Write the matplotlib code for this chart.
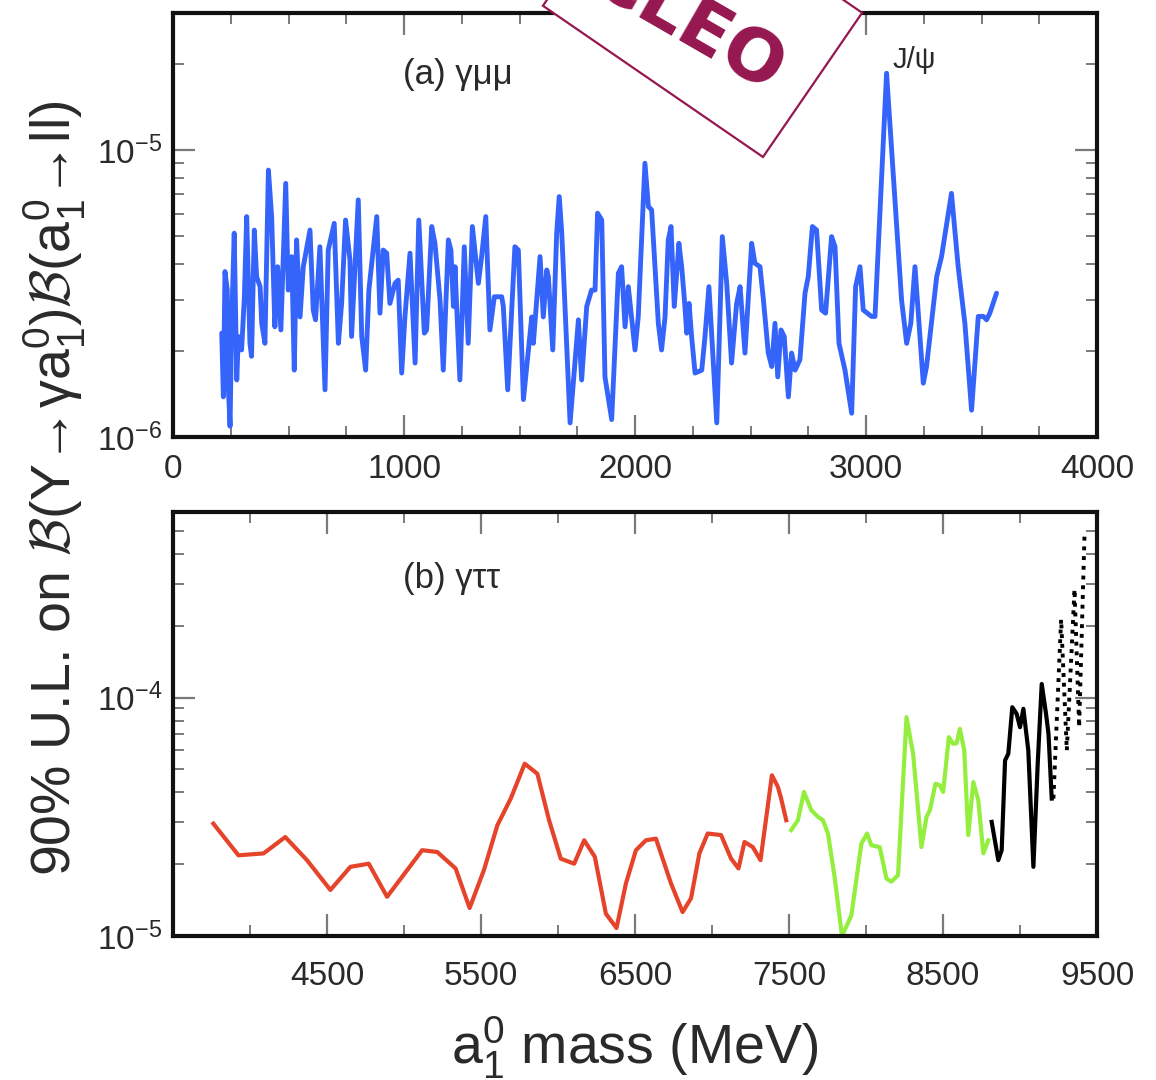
import matplotlib
matplotlib.use("Agg")
import matplotlib.pyplot as plt
import numpy as np
from matplotlib import font_manager
from matplotlib.ticker import FixedLocator, NullFormatter, FuncFormatter, LogLocator
from matplotlib.patches import Rectangle
from matplotlib.transforms import Affine2D

# ---------------------------------------------------------------- data
# (a) Upsilon -> gamma a1, a1 -> mu mu : 90% UL (units of 1e-6)
mumu_mass = [211, 218, 225, 235, 240, 247, 254, 265, 276, 283, 297, 309, 319, 333, 340,
             352, 362, 377, 384, 398, 413, 427, 441, 453, 467, 488, 499, 514, 525, 535,
             550, 564, 593, 607, 617, 636, 658, 672, 698, 716, 730, 747, 766, 773, 802,
             817, 834, 848, 882, 896, 910, 925, 939, 961, 975, 990, 1004, 1026, 1048, 1064,
             1088, 1098, 1120, 1134, 1156, 1170, 1192, 1203, 1214, 1221, 1228, 1242, 1261,
             1278, 1296, 1322, 1336, 1354, 1372, 1391, 1423, 1430, 1449, 1480, 1495, 1517,
             1553, 1560, 1589, 1603, 1618, 1625, 1644, 1661, 1672, 1683, 1719, 1755, 1769,
             1791, 1812, 1827, 1838, 1856, 1870, 1899, 1928, 1942, 1957, 1971, 2000,
             2014, 2043, 2058, 2072, 2101, 2115, 2130, 2144, 2156, 2170, 2190, 2202, 2214,
             2224, 2234, 2245, 2260, 2289, 2303, 2320, 2354, 2378, 2397, 2418, 2440, 2455,
             2476, 2505, 2519, 2541, 2556, 2577, 2592, 2606, 2618, 2632, 2646, 2664, 2678,
             2693, 2714, 2736, 2750, 2768, 2786, 2808, 2825, 2851, 2866, 2883, 2909, 2938,
             2955, 2974, 2988, 3024, 3039, 3089, 3154, 3176, 3194, 3212, 3248, 3262, 3306,
             3327, 3370, 3399, 3428, 3457, 3486, 3508, 3522, 3536, 3565]
mumu_ul = [2.30, 1.38, 3.77, 3.25, 1.46, 1.09, 2.49, 5.13, 1.58, 2.24, 2.01, 3.08, 5.86, 2.12,
           1.91, 5.26, 3.62, 3.34, 2.49, 2.12, 8.51, 5.86, 2.42, 3.92, 2.36, 7.65, 3.25, 4.25,
           1.71, 4.86, 2.62, 3.92, 5.26, 2.77, 2.56, 4.60, 1.46, 4.48, 5.55, 2.12, 2.92, 5.70,
           4.14, 2.24, 6.70, 2.24, 1.71, 3.25, 5.86, 2.70, 4.48, 4.37, 2.92, 3.43, 3.52, 1.67,
           2.62, 4.37, 1.81, 5.70,
           2.30, 2.36, 5.41, 4.73, 3.00, 1.71, 4.86, 4.48, 2.85, 3.92, 2.85, 1.58, 4.60, 2.12,
           5.41, 3.43, 4.25, 5.86, 2.36, 3.08, 3.08, 2.85, 1.46, 4.60, 4.48, 1.35, 2.62, 2.12,
           4.25, 2.62, 3.82, 3.62, 2.01, 5.13, 6.88, 5.13, 1.12, 2.56, 1.58, 2.85, 3.25, 3.25,
           6.02, 5.70, 1.62, 1.15, 3.72, 3.92, 2.42, 3.34, 2.01,
           2.62, 8.99, 6.35, 6.18, 2.49, 2.01, 2.62, 4.86, 5.41, 2.85, 4.73, 3.92, 3.00, 2.30,
           2.92, 2.24, 1.67, 1.71, 2.24, 3.34, 1.12, 4.99, 3.43, 1.81, 2.92, 3.34, 1.96, 4.73,
           4.03, 3.92, 3.00, 1.96, 1.76, 2.49, 1.62, 2.36, 2.24, 1.38, 1.96, 1.71, 1.86, 3.17,
           3.62, 5.41, 5.26, 2.77, 2.70, 4.99, 4.60, 2.12, 1.71, 1.21, 3.34, 3.92,
           2.77, 2.63, 2.63, 18.5, 3.00, 2.12, 2.49, 3.92, 1.54, 1.76, 3.62, 4.25, 7.06, 3.92,
           2.49, 1.24, 2.63, 2.63, 2.56, 2.70, 3.17]

# (b) Upsilon -> gamma a1, a1 -> tau tau : 90% UL (units of 1e-5), per Upsilon sample
tau_mass_1s = [3762, 3925, 4088, 4229, 4370, 4522, 4652, 4771, 4890, 5118, 5216, 5335, 5426,
               5519, 5606, 5693, 5784, 5866, 5942, 6018, 6105, 6170, 6239, 6311, 6380, 6441,
               6506, 6571, 6636, 6734, 6809, 6864, 6918, 6972, 7059, 7124, 7172, 7211, 7265,
               7315, 7389, 7428, 7449, 7482]
tau_ul_1s = [2.96, 2.18, 2.22, 2.60, 2.08, 1.56, 1.95, 2.01, 1.46, 2.29, 2.25, 1.92, 1.31,
             1.89, 2.91, 3.77, 5.28, 4.79, 3.06, 2.11, 2.01, 2.52, 2.15, 1.24, 1.08, 1.66,
             2.29, 2.52, 2.56, 1.66, 1.26, 1.44, 2.22, 2.69, 2.65, 2.11, 1.92, 2.48, 2.36,
             2.08, 4.72, 4.22, 3.77, 3.06]
tau_mass_2s = [7514, 7558, 7597, 7645, 7688, 7720, 7753, 7796, 7844, 7905, 7970, 8007, 8035,
               8089, 8133, 8165, 8208, 8263, 8306, 8360, 8393, 8415, 8451, 8480, 8501, 8538,
               8566, 8588, 8610, 8638, 8664, 8697, 8729, 8762, 8794]
tau_ul_2s = [2.78, 3.06, 4.02, 3.37, 3.16, 3.06, 2.69, 1.77, 1.00, 1.22, 2.44, 2.69, 2.40,
             2.36, 1.74, 1.69, 1.80, 8.27, 5.81, 2.36, 3.16, 3.37, 4.35, 4.28, 4.02, 6.82,
             6.40, 6.43, 7.39, 6.00, 2.65, 4.42, 3.71, 2.22, 2.52]
tau_mass_3s = [8816, 8859, 8881, 8903, 8924, 8950, 8978, 9000, 9022, 9054, 9087, 9115, 9141,
               9169, 9185, 9206]
tau_ul_3s = [3.01, 2.08, 2.29, 5.45, 5.81, 9.11, 8.55, 7.51, 8.97, 6.00, 1.95, 5.28, 11.4,
             8.55, 7.05, 3.77]
tau_mass_end = [9217, 9267, 9304, 9354, 9384, 9419]
tau_ul_end = [3.77, 21.3, 6.00, 28.5, 7.51, 48.4]

top_xticks = [0, 1000, 2000, 3000, 4000]
bottom_xticks = [4500, 5500, 6500, 7500, 8500, 9500]

# ---------------------------------------------------------------- style
names = {f.name for f in font_manager.fontManager.ttflist}
NARROW = 'Liberation Sans Narrow' if 'Liberation Sans Narrow' in names else 'Liberation Sans'
plt.rcParams['font.family'] = [NARROW, 'Liberation Sans', 'DejaVu Sans']
plt.rcParams['mathtext.fontset'] = 'custom'
plt.rcParams['mathtext.rm'] = NARROW
plt.rcParams['mathtext.it'] = NARROW + ':italic'
plt.rcParams['mathtext.cal'] = 'cmsy10'

TXT = '#2a2a2a'
BLUE = '#3564fb'
RED = '#e6432b'
GREEN = '#93ee3e'
STAMP = '#96174f'

W, H = 1156, 1080
fig = plt.figure(figsize=(W / 100, H / 100), dpi=100)
fig.patch.set_facecolor('white')

L, R = 173, 1097
ax1 = fig.add_axes([L / W, 1 - 437 / H, (R - L) / W, 424 / H])
ax2 = fig.add_axes([L / W, 1 - 936 / H, (R - L) / W, 424 / H])


def log_label(v, pos):
    return r'$10^{%d}$' % int(round(np.log10(v)))


def style(ax):
    ax.set_yscale('log')
    for s in ax.spines.values():
        s.set_linewidth(3.0)
        s.set_color('#111111')
    ax.tick_params(which='both', direction='in', top=True, right=True,
                   colors='#7a7a7a', labelcolor=TXT, labelsize=24)
    ax.tick_params(which='major', length=16, width=1.6)
    ax.tick_params(which='minor', length=8, width=1.4)
    ax.tick_params(axis='x', which='major', pad=12)
    ax.tick_params(axis='y', which='major', pad=8)
    ax.yaxis.set_major_formatter(FuncFormatter(log_label))
    ax.yaxis.set_minor_locator(LogLocator(base=10, subs=np.arange(2, 10)))
    ax.yaxis.set_minor_formatter(NullFormatter())


# ---------------------------------------------------------------- (a) gamma mu mu
style(ax1)
ax1.plot(mumu_mass, np.array(mumu_ul) * 1e-6, color=BLUE, lw=3.5,
         solid_joinstyle='round', solid_capstyle='round')
ax1.set_xlim(0, 4000)
ax1.set_ylim(1e-6, 3e-5)
ax1.xaxis.set_major_locator(FixedLocator(top_xticks))
ax1.xaxis.set_minor_locator(FixedLocator([v for v in range(250, 4000, 250) if v % 1000]))
ax1.text(0.249, 0.854, '(a) γμμ', transform=ax1.transAxes, fontsize=25,
         color=TXT, ha='left', va='center', family='Liberation Sans')
ax1.text(3208, 2.06e-5, 'J/ψ', fontsize=21, color=TXT, ha='center', va='center',
         family='Liberation Sans')

# ---------------------------------------------------------------- (b) gamma tau tau
style(ax2)
ax2.plot(tau_mass_1s, np.array(tau_ul_1s) * 1e-5, color=RED, lw=3.0, solid_joinstyle='round')
ax2.plot(tau_mass_2s, np.array(tau_ul_2s) * 1e-5, color=GREEN, lw=3.0, solid_joinstyle='round')
ax2.plot(tau_mass_3s, np.array(tau_ul_3s) * 1e-5, color='black', lw=3.0,
         solid_joinstyle='round')
ax2.plot(tau_mass_end, np.array(tau_ul_end) * 1e-5, color='black', lw=2.8, ls=(0, (1, 1.5)))
ax2.set_xlim(3500, 9500)
ax2.set_ylim(1e-5, 6e-4)
ax2.xaxis.set_major_locator(FixedLocator(bottom_xticks))
ax2.xaxis.set_minor_locator(FixedLocator(list(range(4000, 9500, 1000))))
ax2.tick_params(axis='x', which='major', pad=18)
ax2.text(0.249, 0.844, '(b) γττ', transform=ax2.transAxes, fontsize=25,
         color=TXT, ha='left', va='center', family='Liberation Sans')

# ---------------------------------------------------------------- axis titles
fig.text(55 / W, 1 - 488 / H,
         r'90% U.L. on $\mathcal{B}$(Υ→γa$_1^0$)$\mathcal{B}$(a$_1^0$→ll)',
         rotation=90, ha='center', va='center', fontsize=40, color=TXT)
fig.text((L + R) / 2 / W, 1 - 1048 / H, r'a$_1^0$ mass (MeV)',
         ha='center', va='center', fontsize=40, color=TXT)

# ---------------------------------------------------------------- stamp
stamp = Rectangle((0, 0), 175, 267, facecolor='white', edgecolor=STAMP, lw=1.6,
                  transform=Affine2D().rotate_deg(55.5).translate(763, H - 157),
                  zorder=20)
fig.add_artist(stamp)
fig.text(687 / W, 1 - 25 / H, 'CLEO', rotation=-30, rotation_mode='anchor',
         ha='center', va='center', fontsize=52, fontweight='bold', color=STAMP,
         family='DejaVu Sans', zorder=21)

fig.savefig('out.png', dpi=100, facecolor='white')
